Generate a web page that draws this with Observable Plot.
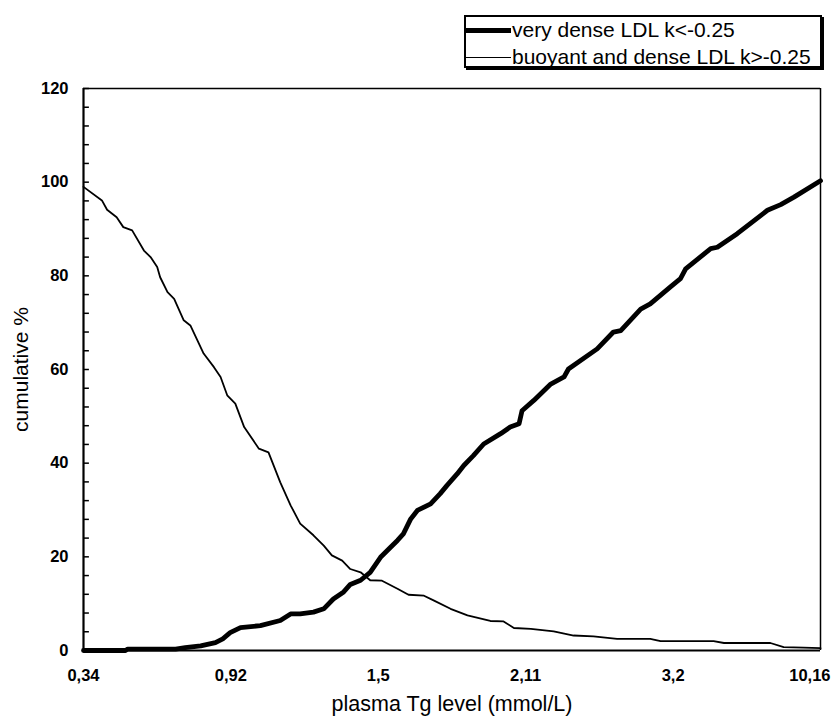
<!DOCTYPE html>
<html>
<head>
<meta charset="utf-8">
<script src="https://cdn.jsdelivr.net/npm/d3@7"></script>
<script src="https://cdn.jsdelivr.net/npm/@observablehq/plot@0.6"></script>
<style>
  html, body { margin: 0; padding: 0; background: #fff; }
  body { width: 833px; height: 720px; overflow: hidden; font-family: "Liberation Sans", Arial, sans-serif; }
  #legendArea { position: relative; width: 833px; height: 80px; }
  #legend { position: absolute; left: 464px; top: 15px; width: 354px; height: 49px; border: 2px solid #000; box-shadow: 2px 2px 0 #000; background: #fff; }
  .item { position: absolute; left: 0; height: 24px; display: flex; align-items: center; }
  .swatch { width: 45px; height: 0; border-top-style: solid; border-top-color: #000; margin-right: 1px; }
  .lab { font-size: 21px; color: #000; white-space: nowrap; }
  #chart svg text { fill: #000; }
</style>
</head>
<body>
<div id="legendArea">
  <div id="legend">
    <div class="item" style="top:1px"><div class="swatch" style="border-top-width:5px"></div><span class="lab" id="l1"></span></div>
    <div class="item" style="top:28px"><div class="swatch" style="border-top-width:1.5px"></div><span class="lab" id="l2"></span></div>
  </div>
</div>
<div id="chart"></div>
<script>
// Series names
const seriesNames = ["very dense LDL k<-0.25", "buoyant and dense LDL k>-0.25"];
// X axis: evenly spaced positions with Tg level labels
const xTickPos = [0, 20, 40, 60, 80, 100];
const xTickLabels = ["0,34", "0,92", "1,5", "2,11", "3,2", "10,16"];
const yTicks = [0, 20, 40, 60, 80, 100, 120];
const yMinorTicks = [4, 8, 12, 16, 24, 28, 32, 36, 44, 48, 52, 56, 64, 68, 72, 76, 84, 88, 92, 96, 104, 108, 112, 116];
const xTitle = "plasma Tg level (mmol/L)";
const yTitle = "cumulative %";

// very dense LDL (thick line)
const denseX = [0, 5.7, 6.0, 12.5, 13.8, 15.9, 17.9, 18.9, 19.9, 21.3, 24.0, 26.7, 28.1, 29.4, 31.2, 32.6, 33.9, 35.3, 36.2, 37.6, 38.9, 40.3, 41.7, 42.6, 43.4, 44.4, 45.3, 47.1, 48.4, 49.3, 50.7, 51.6, 52.9, 54.3, 56.6, 57.9, 59.1, 59.5, 61.1, 63.4, 65.2, 65.8, 69.7, 71.9, 72.9, 75.6, 76.9, 79.6, 81.0, 81.7, 85.1, 86.0, 88.7, 92.8, 94.6, 96.4, 100];
const denseY = [0, 0, 0.3, 0.3, 0.6, 1.0, 1.7, 2.5, 3.8, 4.9, 5.3, 6.4, 7.8, 7.8, 8.2, 8.9, 11.0, 12.5, 14.1, 15.0, 16.7, 19.9, 22.1, 23.5, 24.9, 28.1, 29.9, 31.3, 33.5, 35.2, 37.7, 39.5, 41.6, 44.1, 46.3, 47.7, 48.4, 51.2, 53.4, 56.9, 58.4, 60.1, 64.4, 68.0, 68.3, 72.9, 74.0, 77.6, 79.4, 81.5, 85.8, 86.1, 89.0, 94.0, 95.2, 96.8, 100.3];

// buoyant and dense LDL (thin line)
const buoyX = [0, 2.5, 3.2, 4.5, 5.4, 6.6, 8.2, 9.1, 10.0, 10.4, 11.4, 12.3, 13.6, 14.5, 16.3, 17.7, 18.6, 19.5, 20.6, 21.8, 23.8, 25.1, 26.7, 28.1, 29.4, 31.2, 32.6, 33.7, 35.1, 36.2, 37.6, 38.9, 40.5, 42.6, 44.1, 46.2, 47.5, 49.8, 52.1, 55.2, 57.0, 58.4, 60.7, 63.8, 66.5, 69.2, 72.4, 76.9, 78.3, 85.5, 86.9, 93.2, 95.0, 97.7, 100];
const buoyY = [99, 96.1, 94.1, 92.5, 90.4, 89.7, 85.4, 84.0, 81.9, 79.7, 76.5, 75.1, 70.5, 69.4, 63.4, 60.5, 58.4, 54.5, 52.7, 47.7, 43.1, 42.3, 35.9, 31.0, 27.1, 24.6, 22.4, 20.3, 19.2, 17.4, 16.7, 15.0, 14.9, 13.2, 11.9, 11.7, 10.7, 8.9, 7.5, 6.3, 6.2, 4.8, 4.6, 4.1, 3.2, 3.0, 2.5, 2.5, 2.0, 2.0, 1.6, 1.6, 0.7, 0.6, 0.5];

document.getElementById("l1").textContent = seriesNames[0];
document.getElementById("l2").textContent = seriesNames[1];

const dense = denseX.map((x, i) => ({x, y: denseY[i]}));
const buoy = buoyX.map((x, i) => ({x, y: buoyY[i]}));
const xLabs = xTickPos.map((x, i) => ({x, label: xTickLabels[i]}));
const nL = xLabs.length - 1;

const chart = Plot.plot({
  width: 833,
  height: 640,
  marginTop: 8,
  marginBottom: 70,
  marginLeft: 83,
  marginRight: 13,
  style: {fontFamily: "'Liberation Sans', Arial, sans-serif", background: "#fff", color: "#000"},
  x: {domain: [0, 100], axis: null},
  y: {domain: [0, 120], axis: null},
  marks: [
    Plot.text(yTicks, {x: () => 0, y: (d) => d, text: (d) => String(d), textAnchor: "end", dx: -15, fontSize: 16.5, fontWeight: "bold", fill: "#000"}),
    Plot.text(xLabs.slice(0, nL), {x: "x", y: () => 0, text: "label", lineAnchor: "top", dy: 19, fontSize: 16.5, fontWeight: "bold", fill: "#000"}),
    Plot.text(xLabs.slice(nL), {x: "x", y: () => 0, text: "label", lineAnchor: "top", textAnchor: "end", dx: 10, dy: 19, fontSize: 16.5, fontWeight: "bold", fill: "#000"}),
    Plot.ruleY(yTicks.concat(yMinorTicks), {x1: 0, x2: 0.8, stroke: "#000", strokeWidth: 1.5}),
    Plot.ruleY([120], {stroke: "#000", strokeWidth: 1.5}),
    Plot.ruleX([100], {stroke: "#000", strokeWidth: 1.5}),
    Plot.ruleX([0], {stroke: "#000", strokeWidth: 2.2}),
    Plot.line(buoy, {x: "x", y: "y", stroke: "#000", strokeWidth: 1.8}),
    Plot.line(dense, {x: "x", y: "y", stroke: "#000", strokeWidth: 4.8, strokeLinejoin: "round"}),
    Plot.ruleY([0], {stroke: "#000", strokeWidth: 2.2}),
    Plot.text([xTitle], {frameAnchor: "bottom", dy: 60, fontSize: 21.5, fill: "#000"}),
    Plot.text([yTitle], {frameAnchor: "left", textAnchor: "middle", rotate: -90, dx: -62, fontSize: 21, fill: "#000"})
  ]
});
document.getElementById("chart").appendChild(chart);
</script>
</body>
</html>
